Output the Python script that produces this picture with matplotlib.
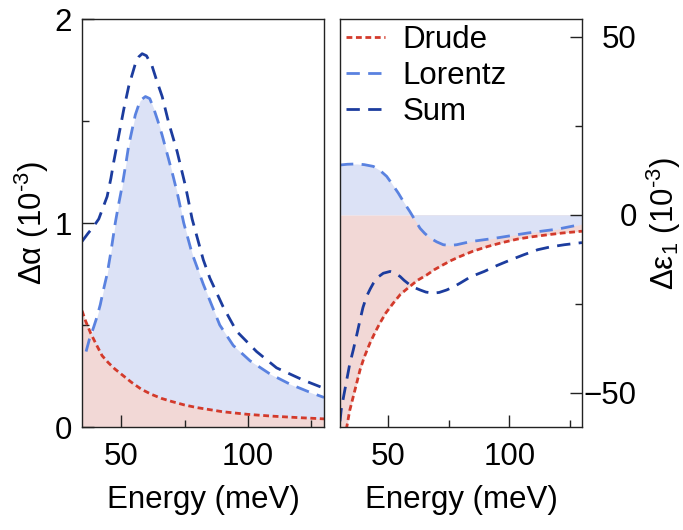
import matplotlib.pyplot as plt
from matplotlib.ticker import MultipleLocator

plt.rcParams['font.family'] = ['Liberation Sans', 'DejaVu Sans']
plt.rcParams['mathtext.fontset'] = 'custom'
plt.rcParams['mathtext.rm'] = 'Liberation Sans'
plt.rcParams['mathtext.it'] = 'Liberation Sans'
plt.rcParams['font.size'] = 22.5

## left panel: delta alpha (1e-3)
e_drude_a = [34.6, 36, 38, 40, 42.5, 45, 47.5, 50, 54, 58, 62, 66, 70, 75, 80, 85, 90, 100, 110, 120, 130]
drude_a = [0.57, 0.52, 0.46, 0.41, 0.35, 0.315, 0.285, 0.26, 0.22, 0.185, 0.16, 0.14, 0.125, 0.108, 0.095,
           0.085, 0.075, 0.062, 0.053, 0.046, 0.04]

e_lor_a = [36.2, 37.5, 39.2, 40.5, 41.8, 43, 44.5, 46, 47.7, 49, 50.4, 52, 53, 55.6, 57.5, 59.6, 61.3, 62.9,
           64.5, 66.2, 68.8, 70.5, 72.1, 74.7, 78, 82.4, 85, 88.9, 94.2, 100.8, 108.7, 116.6, 124.5, 130]
lor_a = [0.37, 0.43, 0.49, 0.54, 0.60, 0.67, 0.75, 0.86, 1.0, 1.09, 1.18, 1.30, 1.38, 1.53, 1.60, 1.62, 1.61,
         1.56, 1.50, 1.43, 1.31, 1.23, 1.15, 1.0, 0.85, 0.70, 0.62, 0.50, 0.40, 0.325, 0.26, 0.21, 0.17, 0.145]

e_sum_a = [34.6, 37, 39, 41.2, 43, 44.5, 46, 47.1, 49.1, 51.1, 53, 55.6, 57, 58.3, 60, 62.2, 64, 66.2, 68.8,
           72.1, 75.4, 78, 82.4, 85, 90.2, 95.5, 103.4, 111.3, 121.8, 130]
sum_a = [0.91, 0.95, 0.98, 1.02, 1.08, 1.13, 1.22, 1.30, 1.43, 1.56, 1.67, 1.78, 1.815, 1.83, 1.82, 1.77, 1.70,
         1.62, 1.49, 1.35, 1.18, 1.02, 0.82, 0.73, 0.59, 0.47, 0.37, 0.29, 0.23, 0.19]

## right panel: delta eps1 (1e-3)
e_drude_e = [30, 31.5, 32.8, 34, 35.5, 37, 38.3, 40, 42.4, 44.5, 46.5, 49, 52, 55, 58.9, 62, 65.8, 69, 72.7,
             76, 79.6, 85, 91, 97, 103.4, 109, 115.8, 122, 130]
drude_e = [-68, -63, -59.6, -55, -51, -47, -43.5, -40, -36, -33, -30.4, -27.5, -24.8, -22.3, -20.1, -18.4,
           -16.9, -15.4, -14.0, -12.8, -11.7, -10.2, -8.9, -7.8, -6.8, -6.2, -5.6, -5.1, -4.6]

e_lor_e = [30, 33, 36.9, 40, 43.8, 46.5, 49.3, 51.5, 54.1, 56.5, 58.9, 61, 63.1, 65, 67.2, 70, 72.7, 75.5,
           78.2, 84.1, 93.8, 107.6, 120, 128.9, 130]
lor_e = [14.0, 14.2, 14.3, 14.1, 13.6, 12.5, 10.8, 8.7, 6.1, 3.4, 0.9, -1.5, -3.8, -5.2, -6.5, -7.6, -8.4,
         -8.6, -8.4, -7.5, -6.6, -5.1, -4.0, -2.8, -2.6]

e_sum_e = [30, 30.5, 31.5, 32.8, 34, 35.5, 37, 38.3, 39.5, 41, 42.5, 43.8, 45.5, 47.9, 50.7, 52.5, 54.8, 56.5,
           58.9, 61, 63.1, 65.5, 68.6, 71, 74.1, 77, 79.6, 84, 89.6, 95, 100.7, 106, 111.7, 117, 122.7, 130]
sum_e = [-58, -54.8, -51, -46.3, -42, -37.9, -33.5, -29.5, -26, -22.9, -20.8, -19.2, -17.6, -16.4, -15.9,
         -16.3, -17.3, -18.4, -19.7, -20.5, -21.1, -21.7, -22.0, -21.8, -21.1, -20.2, -19.2, -17.4, -15.9,
         -14.2, -12.6, -11.2, -9.8, -9.0, -8.4, -7.8]

red = '#d33a2b'
light = '#5a82e0'
dark = '#1c3c9e'
fill_blue = '#dce2f6'
fill_red = '#f2d8d6'
spine_c = '#222222'

fig = plt.figure(figsize=(6.83, 5.30), dpi=100)
ax1 = fig.add_axes([0.1201, 0.1943, 0.3543, 0.7698])
ax2 = fig.add_axes([0.4978, 0.1943, 0.3543, 0.7698])

# left
ax1.fill_between(e_lor_a, 0, lor_a, color=fill_blue, lw=0)
ax1.fill_between(e_drude_a, 0, drude_a, color=fill_red, lw=0)
ax1.plot(e_drude_a, drude_a, color=red, lw=2, dashes=(2.1, 1.3))
ax1.plot(e_lor_a, lor_a, color=light, lw=2, dashes=(4.8, 3))
ax1.plot(e_sum_a, sum_a, color=dark, lw=2, dashes=(4.8, 3))

ax1.set_xlim(34.6, 130)
ax1.set_ylim(0, 2)
ax1.set_xticks([50, 100])
ax1.xaxis.set_minor_locator(MultipleLocator(25))
ax1.set_yticks([0, 1, 2])
ax1.yaxis.set_minor_locator(MultipleLocator(0.5))
ax1.tick_params(which='both', direction='in', top=False, right=False, width=1, color=spine_c)
ax1.tick_params(which='major', length=8.5)
ax1.tick_params(which='minor', length=5)
ax1.tick_params(axis='y', pad=7)
ax1.tick_params(axis='x', pad=11)
ax1.set_xlabel('Energy (meV)', labelpad=9)
ax1.set_ylabel('\u0394\u03b1 (10$^{\u2010 3}$)', labelpad=3)

# right
ax2.fill_between(e_drude_e, 0, drude_e, color=fill_red, lw=0)
ax2.fill_between(e_lor_e, 0, lor_e, color=fill_blue, lw=0)
ax2.plot(e_drude_e, drude_e, color=red, lw=2, dashes=(2.1, 1.3), label='Drude')
ax2.plot(e_lor_e, lor_e, color=light, lw=2, dashes=(4.8, 3), label='Lorentz')
ax2.plot(e_sum_e, sum_e, color=dark, lw=2, dashes=(4.8, 3), label='Sum')

ax2.set_xlim(30, 130)
ax2.set_ylim(-59.6, 55)
ax2.set_xticks([50, 100])
ax2.xaxis.set_minor_locator(MultipleLocator(25))
ax2.set_yticks([-50, 0, 50])
ax2.yaxis.set_minor_locator(MultipleLocator(25))
ax2.yaxis.tick_right()
ax2.yaxis.set_label_position('right')
ax2.tick_params(which='both', direction='in', top=False, left=False, right=True, width=1, color=spine_c)
ax2.tick_params(which='major', length=8.5)
ax2.tick_params(which='minor', length=5)
ax2.tick_params(axis='y', pad=39.5)
ax2.tick_params(axis='x', pad=11)
for t in ax2.yaxis.get_major_ticks():
    t.label2.set_horizontalalignment('right')
ax2.set_xlabel('Energy (meV)', labelpad=9)
ax2.set_ylabel('\u0394\u03b5$_1$ (10$^{\u2010 3}$)', labelpad=6, rotation=90)

for ax in (ax1, ax2):
    for s in ax.spines.values():
        s.set_color(spine_c)
        s.set_linewidth(1)

ax2.legend(loc='upper left', frameon=False, handlelength=1.25, handletextpad=0.55,
           labelspacing=0.18, borderpad=0.1, borderaxespad=0.1)

fig.savefig('out.png', dpi=100)
